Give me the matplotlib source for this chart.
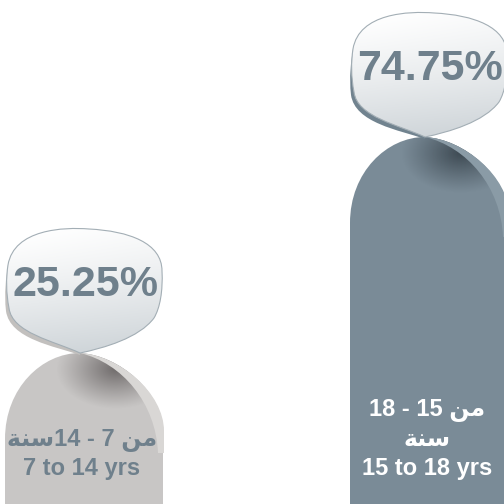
import numpy as np
import matplotlib.pyplot as plt
from matplotlib.path import Path
from matplotlib.patches import PathPatch
from matplotlib.colors import to_rgb

# data (Arabic as presentation forms, written in visual left-to-right order)
MIN = '\ufee6\ufee3'            # من
SANA = '\ufe94\ufee8\ufeb3'     # سنة
values = [25.25, 74.75]
pct_labels = ['25.25%', '74.75%']
labels_ar = [SANA + '14 - 7 ' + MIN, '18 - 15 ' + MIN + '\n' + SANA]
labels_en = ['7 to 14 yrs', '15 to 18 yrs']

# look
xs = [84, 429]
bar_w = 158
body_col = ['#c8c6c5', '#7a8b97']
ribbon_col = ['#d9d7d5', '#8a9ba6']
dark_col = ['#5a5555', '#2f3a42']
rim_col = ['#c2c0be', '#71838f']
txt_col = ['#6f808c', '#ffffff']
pct_col = '#6f808c'
fam = ['Liberation Sans', 'DejaVu Sans']

y0, y1 = -9.35, 106.14
fig = plt.figure(figsize=(5.04, 5.04), dpi=100)
ax = fig.add_axes([0, 0, 1, 1])
ax.set_xlim(0, 504)
ax.set_ylim(y0, y1)
ax.axis('off')
ppu = 504 / (y1 - y0)   # pixels per value unit

M, C, L, Z = Path.MOVETO, Path.CURVE4, Path.LINETO, Path.CLOSEPOLY


def build(cx, top, spec):
    verts, codes = [], []
    for code, pts in spec:
        for dx, dy in pts:
            verts.append((cx + dx, top - dy / ppu))
            codes.append(code)
    verts.append(verts[0])
    codes.append(Z)
    return Path(verts, codes)


def grad_image(cx, top, dxr, dyr, func, clip, z):
    gx = np.linspace(dxr[0], dxr[1], 200)
    gy = np.linspace(dyr[0], dyr[1], 200)
    DX, DY = np.meshgrid(gx, gy)
    img = func(DX, DY)
    im = ax.imshow(img, extent=(cx + dxr[0], cx + dxr[1], top - dyr[1] / ppu, top - dyr[0] / ppu),
                   origin='upper', aspect='auto', interpolation='bilinear', zorder=z)
    im.set_clip_path(clip)


tip = -4
dome_spec = [(M, [(-79, 86)]),
             (C, [(-79, 35), (-42, 0), (tip, 0)]),
             (C, [(35, 2), (79, 40), (79, 78)]),
             (L, [(79, 90), (-79, 90)])]
ribbon_spec = [(M, [(tip, 0)]),
               (C, [(35, 2), (80, 40), (80, 78)]),
               (L, [(80, 100), (74, 100)]),
               (C, [(72, 50), (38, 10), (tip, 0)])]
bubble_spec = [(M, [(tip, 0)]),
               (C, [(-30, -12), (-72, -20), (-75, -45)]),
               (C, [(-78, -60), (-78, -75), (-76, -88)]),
               (C, [(-70, -124), (-20, -126), (5, -124)]),
               (C, [(45, -122), (78, -110), (78, -82)]),
               (C, [(79, -62), (76, -45), (70, -35)]),
               (C, [(55, -15), (20, -5), (tip, 0)])]
rim_spec = [(M, [(tip, 2)]),
            (C, [(-30, -7), (-74, -14), (-78, -42)]),
            (C, [(-80, -60), (-78, -75), (-76, -88)]),
            (L, [(0, -60)])]

for i, (cx, v) in enumerate(zip(xs, values)):
    # straight part of the bar
    ax.bar(cx, v - 88 / ppu - y0, bottom=y0, width=bar_w, color=body_col[i], lw=0, zorder=1)
    dome = PathPatch(build(cx, v, dome_spec), fc=body_col[i], lw=0, zorder=2)
    ax.add_patch(dome)
    dk = np.array(to_rgb(dark_col[i]))

    def shade(DX, DY, dk=dk):
        d = np.sqrt(((DX - 32) / 60) ** 2 + ((DY - 16) / 40) ** 2)
        a = 0.8 * np.clip(1 - d, 0, 1) ** 1.1
        out = np.zeros(DX.shape + (4,))
        out[..., :3] = dk
        out[..., 3] = a
        return out
    grad_image(cx, v, (-80, 80), (0, 100), shade, dome, 3)
    ax.add_patch(PathPatch(build(cx, v, ribbon_spec), fc=ribbon_col[i], lw=0, zorder=4))

    # bubble
    ax.add_patch(PathPatch(build(cx, v, rim_spec), fc=rim_col[i], lw=0, zorder=5))
    bub = PathPatch(build(cx, v, bubble_spec), fc='none', ec='#a3aeb5', lw=0.8, zorder=7)
    ax.add_patch(bub)
    c_top = np.array([1.0, 1.0, 1.0])
    c_bot = np.array(to_rgb('#cfd5d9'))

    def bfill(DX, DY):
        t = np.clip((DY + 135) / 135, 0, 1) ** 1.3
        t = np.clip(t + 0.08 * (DX / 80), 0, 1)
        out = np.ones(DX.shape + (4,))
        out[..., :3] = c_top + (c_bot - c_top) * t[..., None]
        return out
    grad_image(cx, v, (-82, 82), (-135, 2), bfill, bub, 6)

    ax.text(cx + 1, v + 68 / ppu, pct_labels[i], ha='center', va='center', color=pct_col,
            fontsize=31, fontweight='bold', family=fam, zorder=8)

    lines = labels_ar[i].split('\n') + [labels_en[i]]
    for k, line in enumerate(reversed(lines)):
        ax.text(cx - 2, y0 + (35 + 29 * k) / ppu, line, ha='center', va='center',
                color=txt_col[i], fontsize=17, fontweight='bold', family=fam, zorder=8)

fig.savefig('out.png', dpi=100)
